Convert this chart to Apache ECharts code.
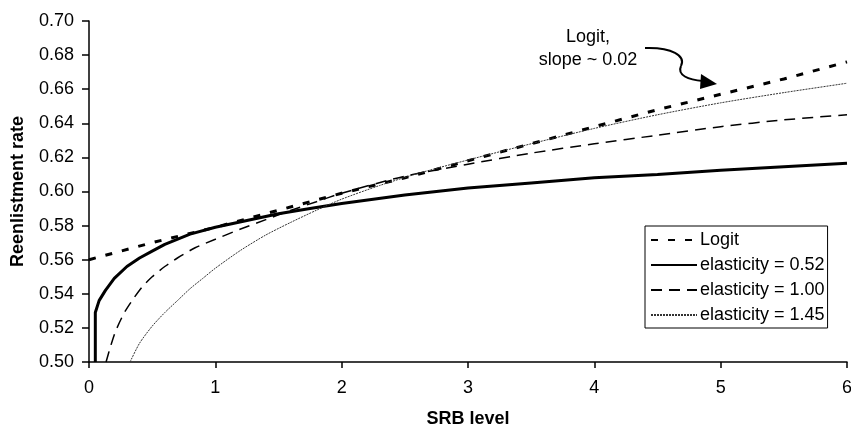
<!DOCTYPE html>
<html>
<head>
<meta charset="utf-8">
<script src="https://cdn.jsdelivr.net/npm/echarts@6/dist/echarts.min.js"></script>
<style>
  html, body { margin: 0; padding: 0; background: #fff; }
  #chart { width: 851px; height: 430px; }
</style>
</head>
<body>
<div id="chart"></div>
<script>
// --- data ---
const logitX = [0, 0.5, 1, 1.5, 2, 2.5, 3, 3.5, 4, 4.5, 5, 5.5, 6];
const logitY = [0.560, 0.570, 0.579, 0.589, 0.599, 0.608, 0.618, 0.628, 0.638, 0.648, 0.657, 0.666, 0.676];

const e052X = [0.05, 0.05, 0.08, 0.13, 0.2, 0.3, 0.4, 0.5, 0.6, 0.8, 1.0, 1.25, 1.5, 1.75, 2.0, 2.5, 3.0, 3.5, 4.0, 4.5, 5.0, 5.5, 6.0];
const e052Y = [0.500, 0.529, 0.536, 0.542, 0.549, 0.556, 0.561, 0.565, 0.569, 0.575, 0.579, 0.583, 0.587, 0.590, 0.593, 0.598, 0.602, 0.605, 0.608, 0.610, 0.6125, 0.6145, 0.6165];

const e100X = [0.135, 0.17, 0.21, 0.28, 0.35, 0.42, 0.5, 0.6, 0.7, 0.84, 1.0, 1.2, 1.4, 1.6, 1.8, 2.0, 2.5, 3.0, 3.5, 4.0, 4.5, 5.0, 5.5, 6.0];
const e100Y = [0.500, 0.509, 0.518, 0.529, 0.537, 0.544, 0.550, 0.556, 0.561, 0.567, 0.572, 0.578, 0.5835, 0.589, 0.594, 0.599, 0.609, 0.616, 0.6225, 0.628, 0.633, 0.638, 0.642, 0.645];

const e145X = [0.325, 0.4, 0.5, 0.6, 0.7, 0.8, 0.9, 1.0, 1.2, 1.4, 1.6, 1.8, 2.0, 2.3, 2.6, 3.0, 3.5, 4.0, 4.5, 5.0, 5.5, 6.0];
const e145Y = [0.500, 0.511, 0.521, 0.529, 0.536, 0.543, 0.549, 0.555, 0.5655, 0.5745, 0.582, 0.589, 0.5955, 0.6035, 0.6105, 0.6185, 0.628, 0.637, 0.645, 0.652, 0.658, 0.6635];

const seriesNames = ['Logit', 'elasticity = 0.52', 'elasticity = 1.00', 'elasticity = 1.45'];

const FONT = 'Liberation Sans, Arial, sans-serif';
const pairs = (xs, ys) => xs.map((x, i) => [x, ys[i]]);

const chart = echarts.init(document.getElementById('chart'));

const lineSeries = (name, data, lineStyle, smooth) => ({
  name: name,
  type: 'line',
  data: data,
  symbol: 'none',
  smooth: smooth,
  lineStyle: Object.assign({ color: '#000' }, lineStyle),
  itemStyle: { color: '#000' },
  emphasis: { disabled: true }
});

chart.setOption({
  animation: false,
  backgroundColor: '#fff',
  textStyle: { fontFamily: FONT, color: '#000' },
  grid: { left: 89, right: 4, top: 21, bottom: 68, outerBoundsMode: 'none' },
  legend: {
    orient: 'vertical',
    left: 645,
    top: 226,
    padding: [5, 3, 4, 5],
    itemWidth: 46,
    itemHeight: 14,
    itemGap: 7,
    borderColor: '#000',
    borderWidth: 1,
    itemStyle: { color: 'rgba(0,0,0,0)', borderWidth: 0 },
    textStyle: { fontFamily: FONT, fontSize: 18, color: '#000', padding: [0, 0, 0, -2] },
    data: seriesNames
  },
  xAxis: {
    type: 'value',
    min: 0,
    max: 6,
    interval: 1,
    name: 'SRB level',
    nameLocation: 'middle',
    nameGap: 48,
    nameTextStyle: { fontFamily: FONT, fontSize: 18, fontWeight: 'bold', color: '#000' },
    axisLine: { show: true, lineStyle: { color: '#000', width: 1.5 } },
    axisTick: { show: true, length: 6, lineStyle: { color: '#000', width: 1.5 } },
    axisLabel: { fontFamily: FONT, fontSize: 18, color: '#000', margin: 17 },
    splitLine: { show: false }
  },
  yAxis: {
    type: 'value',
    min: 0.5,
    max: 0.7,
    interval: 0.02,
    name: 'Reenlistment rate',
    nameLocation: 'middle',
    nameGap: 62,
    nameTextStyle: { fontFamily: FONT, fontSize: 18, fontWeight: 'bold', color: '#000' },
    axisLine: { show: true, lineStyle: { color: '#000', width: 1.5 } },
    axisTick: { show: true, length: 7, lineStyle: { color: '#000', width: 1.5 } },
    axisLabel: { fontFamily: FONT, fontSize: 18, color: '#000', margin: 15, formatter: v => v.toFixed(2) },
    splitLine: { show: false }
  },
  series: [
    lineSeries(seriesNames[0], pairs(logitX, logitY), { width: 3, type: [7, 10] }, false),
    lineSeries(seriesNames[1], pairs(e052X, e052Y), { width: 3, type: 'solid' }, false),
    lineSeries(seriesNames[2], pairs(e100X, e100Y), { width: 1.5, type: [11, 7] }, 0.25),
    lineSeries(seriesNames[3], pairs(e145X, e145Y), { width: 1, type: [2, 1], color: '#333' }, 0.25)
  ],
  graphic: [
    {
      type: 'text',
      x: 588, y: 28,
      style: { text: 'Logit,', font: '18px ' + FONT, fill: '#000', align: 'center' }
    },
    {
      type: 'text',
      x: 588, y: 51,
      style: { text: 'slope ~ 0.02', font: '18px ' + FONT, fill: '#000', align: 'center' }
    },
    {
      type: 'bezierCurve',
      shape: { x1: 645, y1: 48, cpx1: 672, cpy1: 47, cpx2: 686, cpy2: 56, x2: 681, y2: 66 },
      style: { stroke: '#000', lineWidth: 2, fill: null }
    },
    {
      type: 'bezierCurve',
      shape: { x1: 681, y1: 66, cpx1: 677, cpy1: 75, cpx2: 688, cpy2: 80, x2: 703, y2: 81 },
      style: { stroke: '#000', lineWidth: 2, fill: null }
    },
    {
      type: 'polygon',
      shape: { points: [[717, 84], [701, 74], [700, 89]] },
      style: { fill: '#000' }
    }
  ]
});
</script>
</body>
</html>
